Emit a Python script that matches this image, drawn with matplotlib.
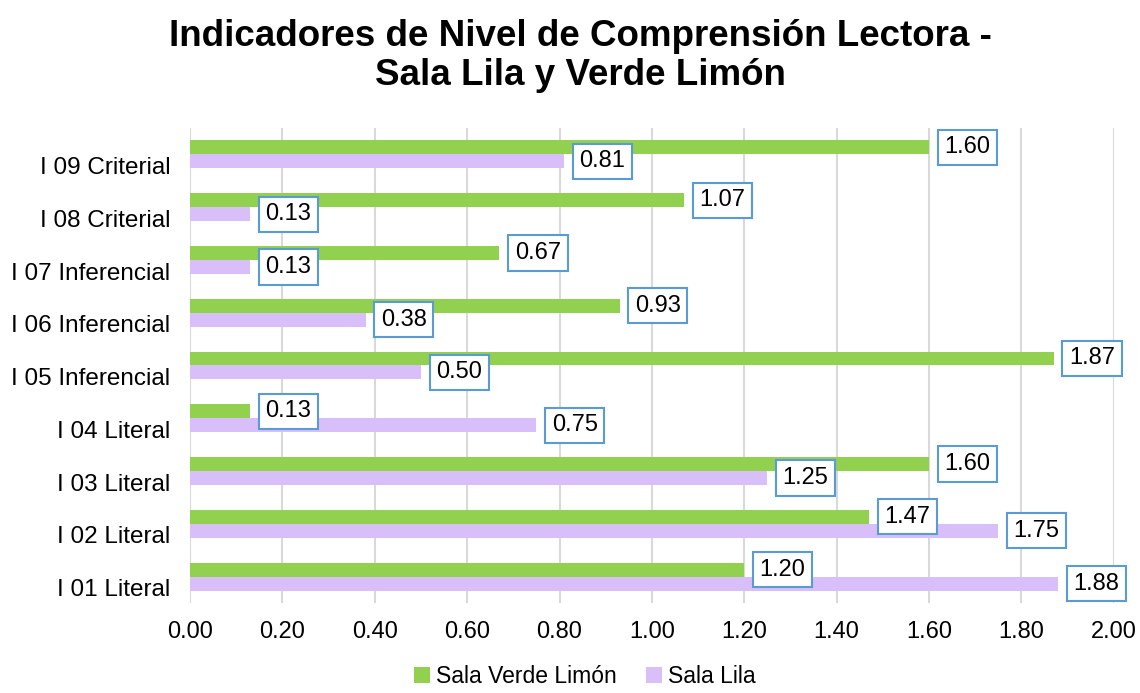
import matplotlib
matplotlib.use("Agg")
import matplotlib.pyplot as plt
import numpy as np

plt.rcParams['font.family'] = ['Liberation Sans', 'DejaVu Sans']

categories = ["I 01 Literal", "I 02 Literal", "I 03 Literal", "I 04 Literal",
              "I 05 Inferencial", "I 06 Inferencial", "I 07 Inferencial",
              "I 08 Criterial", "I 09 Criterial"]
verde = [1.20, 1.47, 1.60, 0.13, 1.87, 0.93, 0.67, 1.07, 1.60]
lila = [1.88, 1.75, 1.25, 0.75, 0.50, 0.38, 0.13, 0.13, 0.81]
xticks = [0.00, 0.20, 0.40, 0.60, 0.80, 1.00, 1.20, 1.40, 1.60, 1.80, 2.00]

green_c = "#92D050"
lila_c = "#D9BFF9"
box_c = "#5B9BD5"

fig = plt.figure(figsize=(11.4, 6.93), dpi=100)
ax = fig.add_axes([0.1667, 0.1299, 0.977 - 0.1667, 0.8153 - 0.1299])

y = np.arange(len(categories))
h = 0.265
bv = ax.barh(y + h / 2, verde, height=h, color=green_c, label="Sala Verde Limón", zorder=2)
bl = ax.barh(y - h / 2, lila, height=h, color=lila_c, label="Sala Lila", zorder=2)

fs = 17
for bars, vals in ((bv, verde), (bl, lila)):
    for rect, v in zip(bars, vals):
        ax.annotate(f"{v:.2f}", xy=(v, rect.get_y() + rect.get_height() / 2),
                    xytext=(11, 0), textcoords="offset points",
                    ha="left", va="center", fontsize=fs, zorder=5,
                    bbox=dict(boxstyle="square,pad=0.28", fc="white", ec=box_c, lw=1.5),
                    annotation_clip=False)

ax.set_xlim(0, 2.0)
ax.set_ylim(-0.5, len(categories) - 0.5)
ax.set_xticks(xticks)
ax.set_xticklabels([f"{t:.2f}" for t in xticks], fontsize=fs)
ax.set_yticks(y - 0.21)
ax.set_yticklabels(categories, fontsize=17.5)
ax.tick_params(axis='x', length=0, pad=13)
ax.tick_params(axis='y', length=0, pad=14)
for s in ax.spines.values():
    s.set_visible(False)
ax.grid(axis='x', color="#D9D9D9", lw=1.5, zorder=0)
ax.set_axisbelow(True)

fig.suptitle("Indicadores de Nivel de Comprensión Lectora -\nSala Lila y Verde Limón",
             fontsize=26.5, fontweight="bold", x=0.509, y=0.972, linespacing=1.15)

fig.legend(handles=[bv, bl], loc="lower center", bbox_to_anchor=(0.513, -0.022),
           ncol=2, frameon=False, fontsize=16.5, handlelength=0.7, handleheight=0.7,
           handletextpad=0.25, columnspacing=1.3)

fig.savefig("out.png", dpi=100)
